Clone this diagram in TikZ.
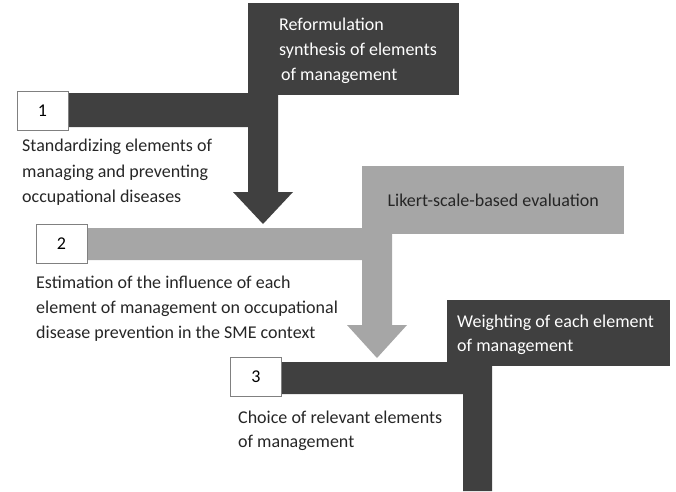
\documentclass[tikz,border=0pt]{standalone}
\usepackage{fontspec}
\setmainfont{Carlito}
\usetikzlibrary{positioning, backgrounds}

\definecolor{boxdark}{HTML}{404040}
\definecolor{boxgrey}{HTML}{A6A6A6}
\definecolor{edgegrey}{HTML}{808080}
\definecolor{inkdark}{HTML}{262626}

\tikzset{
  numbox/.style={draw=edgegrey, line width=1pt, fill=white, minimum width=51pt,
                 minimum height=39pt, inner sep=0pt, text=black},
  darkbox/.style={fill=boxdark, inner sep=0pt, anchor=north west},
  greybox/.style={fill=boxgrey, inner sep=0pt, anchor=north west, text=inkdark},
  steptext/.style={align=left, inner sep=0pt, anchor=north west, text=inkdark},
}

\begin{document}
\begin{tikzpicture}[x=1pt, y=-1pt, font=\fontsize{18}{25}\selectfont]
  \useasboundingbox (0,0) rectangle (676,491);

  % step 1
  \node[darkbox, minimum width=211pt, minimum height=92pt] (reform) at (248,3) {};
  \node[steptext, text=white] (reformtext) at (279,18)
    {Reformulation\\synthesis of elements\\\hspace{2pt}of management};
  \node[numbox] (s1) at (42.5,111) {1};
  \node[steptext, font=\fontsize{18}{25.5}\selectfont] (d1) at (22,139)
    {Standardizing elements of\\managing and preventing\\occupational diseases};
  \coordinate (tip1) at (263,224);

  % step 2
  \node[greybox, minimum width=262pt, minimum height=68pt] (likert) at (362,166)
    {Likert-scale-based evaluation};
  \node[numbox] (s2) at (61.5,244) {2};
  \node[steptext] (d2) at (36,276)
    {Estimation of the influence of each\\element of management on occupational\\disease prevention in the SME context};
  \coordinate (tip2) at (377,358);

  % step 3
  \node[darkbox, minimum width=223pt, minimum height=66pt] (weight) at (447,300) {};
  \node[steptext, text=white, font=\fontsize{18}{23.5}\selectfont] (weighttext) at (457,315)
    {Weighting of each element\\of management};
  \node[numbox] (s3) at (256,377) {3};
  \node[steptext, font=\fontsize{18}{24}\selectfont] (d3) at (238,411)
    {Choice of relevant elements\\of management};

  % the bars behind the boxes
  \begin{scope}[on background layer]
    \fill[boxdark] (s1.center |- 0,93) -- (278,93) -- (278,192) -- (293,192) -- (tip1)
      -- (233,192) -- (reform.west |- 0,192) -- (reform.west |- 0,127) -- (s1.center |- 0,127) -- cycle;
    \fill[boxgrey] (s2.center |- 0,228) -- (392,228) -- (392,325) -- (407,325) -- (tip2)
      -- (347,325) -- (likert.west |- 0,325) -- (likert.west |- 0,260) -- (s2.center |- 0,260) -- cycle;
    \fill[boxdark] (s3.center |- 0,362) -- (492,362) -- (492,491) -- (463,491)
      -- (463,394) -- (s3.center |- 0,394) -- cycle;
  \end{scope}
\end{tikzpicture}
\end{document}
